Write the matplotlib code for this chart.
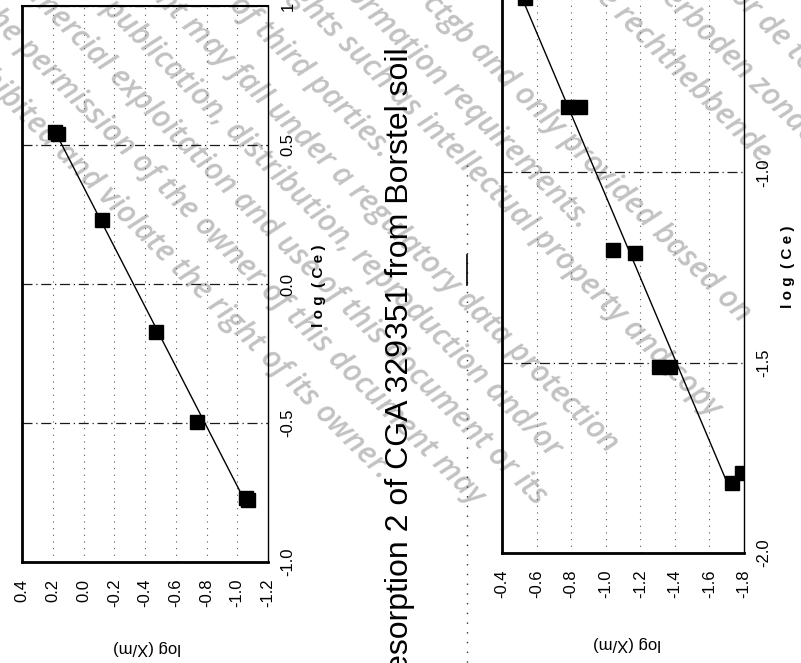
import numpy as np
import matplotlib
matplotlib.use("Agg")
import matplotlib.pyplot as plt
from matplotlib.lines import Line2D

# Freundlich desorption data, Borstel soil (log Ce vs log X/m)
step1_logce = [0.545, 0.538, 0.232, -0.171, -0.495, -0.770, -0.778]
step1_logxm = [0.185, 0.165, -0.120, -0.472, -0.738, -1.058, -1.070]

step2_logce = [-0.542, -0.829, -0.829, -1.205, -1.211, -1.511, -1.511, -1.816, -1.789]
step2_logxm = [-0.533, -0.780, -0.850, -1.040, -1.167, -1.311, -1.374, -1.731, -1.789]

xm_ticks_1 = [0.4, 0.2, 0.0, -0.2, -0.4, -0.6, -0.8, -1.0, -1.2]
xm_ticks_2 = [-0.4, -0.6, -0.8, -1.0, -1.2, -1.4, -1.6, -1.8]
ce_ticks_1 = [-1.0, -0.5, 0.0, 0.5, 1.0]
ce_labels_1 = ["-1.0", "-0.5", "0.0", "0.5", "1"]
ce_ticks_2 = [-2.0, -1.5, -1.0, -0.5]
ce_labels_2 = ["-2.0", "-1.5", "-1.0", "-0.5"]

title = "Desorption 2 of CGA 329351 from Borstel soil"

# watermark lines: (y - x offset in px, start x in px, text)
watermark = [
    (-732, 706, "voor de toelating"),
    (-662, 629, "is verboden zonder toestemming van"),
    (-597, 583, "de rechthebbende."),
    (-417, 393, "by ctgb and only provided based on"),
    (-350, 319, "information requirements."),
    (-292, 275, "rights such as intellectual property and copy"),
    (-222, 166, "rights of third parties."),
    (-154, 76, "document may fall under a regulatory data protection"),
    (-92, 60, "any publication, distribution, reproduction and/or"),
    (-30, -54, "any commercial exploitation and use of this document or its"),
    (33, -103, "without the permission of the owner of this document may"),
    (100, -84, "be prohibited and violate the right of its owner."),
]

W, H = 801, 663
plt.rcParams['font.family'] = ['Liberation Sans', 'DejaVu Sans']

fig = plt.figure(figsize=(W / 100, H / 100), dpi=100)
fig.patch.set_facecolor('white')


def px_box(x0, x1, ytop, ybot):
    return [x0 / W, 1 - ybot / H, (x1 - x0) / W, (ybot - ytop) / H]


def panel(rect, logce, logxm, xm_ticks, ce_ticks, ce_labels, xlim, ylim):
    ax = fig.add_axes(rect)
    ax.set_facecolor('none')
    # horizontal axis carries log(X/m), vertical carries log(Ce)
    ax.set_xlim(*xlim)
    ax.set_ylim(*ylim)
    ax.set_xticks(xm_ticks)
    ax.set_xticklabels([f"{v:.1f}" for v in xm_ticks], rotation=90, fontsize=12)
    ax.set_yticks(ce_ticks)
    ax.set_yticklabels(ce_labels, rotation=90, fontsize=12, va='center')
    ax.yaxis.tick_right()
    ax.tick_params(axis='x', length=0, pad=12)
    ax.tick_params(axis='y', length=0, pad=9)
    for v in xm_ticks[1:-1]:
        ax.axvline(v, color='0.35', lw=0.8, ls=(0, (1, 5)), zorder=1)
    for v in ce_ticks:
        ax.axhline(v, color='0.1', lw=0.9, ls=(0, (8, 3, 1, 3)), zorder=1)
    for side in ('left', 'bottom'):
        ax.spines[side].set_linewidth(2.0)
    ax.spines['top'].set_linewidth(1.5)
    ax.spines['right'].set_linewidth(1.0)
    ax.spines['right'].set_linestyle((0, (2, 1)))

    ce = np.array(logce)
    xm = np.array(logxm)
    slope, icpt = np.polyfit(ce, xm, 1)
    ce_line = np.array([ce.max(), ce.min()])
    ax.plot(slope * ce_line + icpt, ce_line, color='black', lw=1.0, zorder=3)
    ax.plot(xm, ce, ls='none', marker='s', ms=9.5, color='black', zorder=4)
    return ax


panel(px_box(22, 268, 6, 562), step1_logce, step1_logxm, xm_ticks_1,
      ce_ticks_1, ce_labels_1, (0.4, -1.2), (-1.0, 1.0))
panel(px_box(502, 744, -18, 553), step2_logce, step2_logxm, xm_ticks_2,
      ce_ticks_2, ce_labels_2, (-0.4, -1.8), (-2.0, -0.5))

# axis titles, turned with the page
for x, y in [(147, 647), (627, 643)]:
    fig.text(x / W, 1 - y / H, "log (X/m)", rotation=180, fontsize=12,
             ha='center', va='center')
for x, y in [(319, 286), (788, 267)]:
    fig.text(x / W, 1 - y / H, "l o g  ( C e )", rotation=90, fontsize=11,
             fontweight='bold', ha='center', va='center')

fig.text(400 / W, 1 - 47 / H, title, rotation=90, fontsize=23,
         ha='center', va='top')

# stray scan rule between the panels
fig.add_artist(Line2D([467 / W, 467 / W], [1 - 165 / H, 0], color='0.2',
                      lw=1.0, ls=(0, (1, 6))))
fig.add_artist(Line2D([467 / W, 467 / W], [1 - 255 / H, 1 - 285 / H],
                      color='black', lw=1.2))

for c, x0, s in watermark:
    y0 = x0 + c
    fig.text(x0 / W, 1 - y0 / H, s, rotation=-45, rotation_mode='anchor',
             ha='left', va='baseline', fontsize=22, style='italic',
             fontweight='semibold',
             family=['Open Sans', 'Noto Sans', 'DejaVu Sans'],
             color='#c2c2c2', zorder=-1)

fig.savefig('out.png', dpi=100)
